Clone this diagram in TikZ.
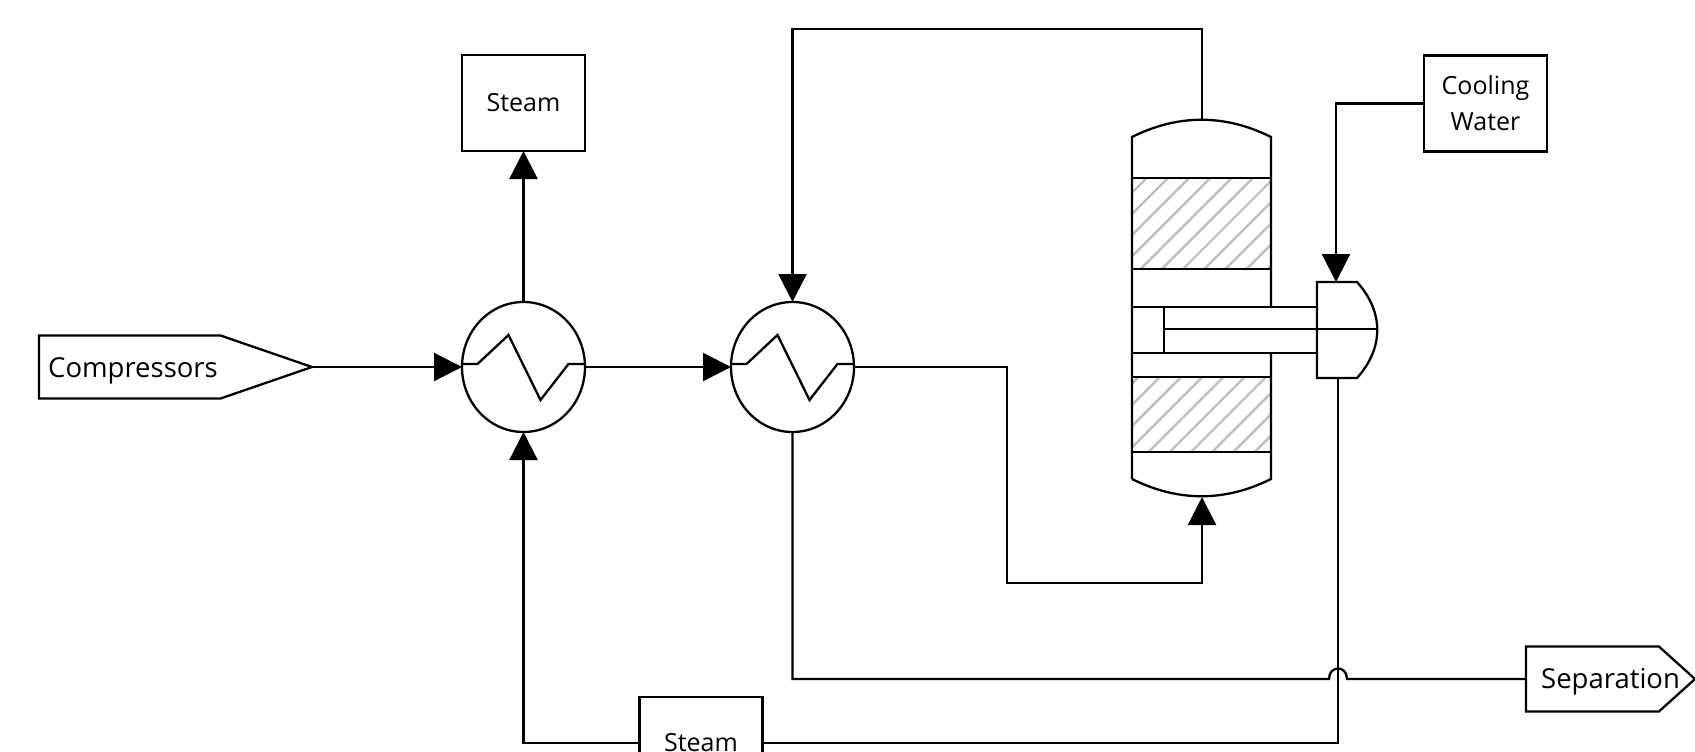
\documentclass[tikz,border=0pt]{standalone}
\usepackage{fontspec}
\setmainfont{Open Sans}
\usetikzlibrary{shapes.geometric, shapes.symbols, arrows.meta, positioning, patterns.meta}

\begin{document}
\begin{tikzpicture}[
      x=1pt, y=-1pt,
      line width=2.3pt,
      font=\fontsize{25}{36}\selectfont,
      box/.style={rectangle, draw=black, outer sep=0pt, minimum width=123pt,
                  minimum height=96pt, align=center},
      hx/.style={ellipse, draw=black, outer sep=0pt, inner sep=0pt,
                 minimum width=123pt, minimum height=130pt},
      packing/.style={rectangle, draw=black, outer sep=0pt, minimum width=139pt,
                      pattern={Lines[angle=45, distance=15pt, line width=2.4pt]},
                      pattern color=black!25},
      pipe/.style={signal, signal to=east, draw=black, outer sep=0pt, inner sep=0pt},
      pipelabel/.style={anchor=west, inner sep=0pt, font=\fontsize{27.5}{34}\selectfont},
      arr/.style={-{Triangle[length=28pt, width=28pt]}}
    ]
    \useasboundingbox (0,0) rectangle (1695,752);

    % Exchangers
    \node[hx] (hxa) at (523.5,367) {};
    \node[hx, right=146pt of hxa] (hxb) {};
    \foreach \hxname in {hxa, hxb}
      \draw[shift={(\hxname.center)}] (-61.5,-3) -- (-46,-3) -- (-15,-32)
        -- (17,33) -- (45,-3) -- (61.5,-3);

    % Boxes
    \node[box, above=151pt of hxa] (steama) {Steam};
    \node[box, minimum height=92pt] (steamb) at (701,743) {Steam};
    \node[box] (cool) at (1485.5,103.5) {Cooling\\Water};

    % Off-page streams
    \node[pipe, minimum width=273pt, minimum height=63pt, signal pointer angle=38,
          anchor=west] (comp) at (39,367) {};
    \node[pipelabel] (complabel) at (47,371) {Compressors};
    \node[pipe, minimum width=169pt, minimum height=65pt, signal pointer angle=84,
          anchor=west] (sep) at (1526,679) {};
    \node[pipelabel] (seplabel) at (1540,682) {Separation};

    % Column
    \node[packing, minimum height=91pt] (beda) at (1201.5,223.5) {};
    \node[packing, minimum height=75pt] (bedb) at (1201.5,414.5) {};
    \coordinate (coltop) at (1202,120);
    \coordinate (colbot) at (1202,497);
    \draw (1132,479) -- (1132,137) .. controls (1178,114) and (1225,114) .. (1271,137) -- (1271,307);
    \draw (1271,353) -- (1271,479) .. controls (1225,502) and (1178,502) .. (1132,479);

    % Condenser
    \coordinate (condtop) at (1336,282);
    \coordinate (condbot) at (1338,378);
    \draw (1317,282) -- (1357,282) .. controls (1384,312) and (1384,348) .. (1357,378)
      -- (1317,378) -- cycle;
    \draw (1132,307) -- (1317,307);
    \draw (1132,353) -- (1317,353);
    \draw (1164,307) -- (1164,353);
    \draw (1164,329) -- (1377,329);

    % Arrows
    \coordinate (topbend) at (1202,29);
    \coordinate (midbend) at (1007,367);
    \coordinate (lowbend) at (1202,583);
    \coordinate (jumpa) at (1329,679);
    \coordinate (jumpb) at (1347,679);
    \draw[arr] (comp.east) -- (hxa.west);
    \draw[arr] (hxa.east) -- (hxb.west);
    \draw[arr] (hxa.north) -- (steama.south);
    \draw[arr] (coltop) -- (topbend) -| (hxb.north);
    \draw[arr] (hxb.east) -- (midbend) |- (lowbend) -- (colbot);
    \draw[arr] (cool.west) -| (condtop);
    \draw (condbot) |- (steamb.east);
    \draw[arr] (steamb.west) -| (hxa.south);
    \draw (hxb.south) |- (jumpa) .. controls +(0,-14) and +(0,-14) .. (jumpb) -- (sep.west);
  \end{tikzpicture}
\end{document}
